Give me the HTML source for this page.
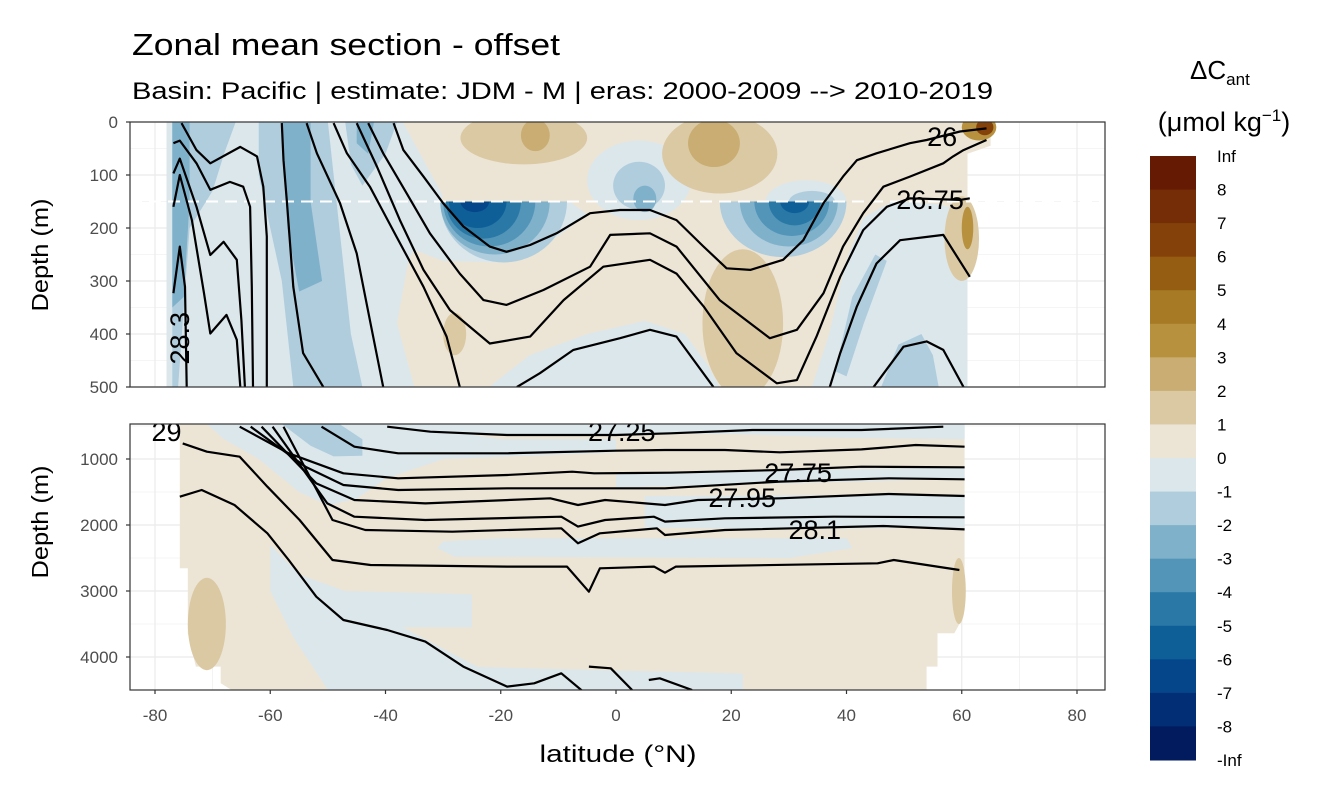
<!DOCTYPE html>
<html><head><meta charset="utf-8">
<style>
html,body{margin:0;padding:0;background:#fff;}
svg{display:block;font-family:"Liberation Sans",sans-serif;}
</style></head>
<body>
<svg id="chart" width="1344" height="806" viewBox="0 0 1344 806" xmlns="http://www.w3.org/2000/svg">
<defs>
<clipPath id="clipTop"><rect x="130" y="122" width="975" height="265"/></clipPath>
<clipPath id="clipTopBelow"><rect x="130" y="201.5" width="975" height="186"/></clipPath>
<clipPath id="clipBot"><rect x="130" y="424" width="975" height="266"/></clipPath>
</defs>
<text x="132" y="55" font-size="31" textLength="428" lengthAdjust="spacingAndGlyphs" fill="#000">Zonal mean section - offset</text>
<text x="132" y="99" font-size="24" textLength="861" lengthAdjust="spacingAndGlyphs" fill="#000">Basin: Pacific | estimate: JDM - M | eras: 2000-2009 --&gt; 2010-2019</text>
<g id="topPanel"></g>
<g id="botPanel"></g>
<g id="axes"></g>
<g id="legend"></g>
</svg>
<script>
// ---------- data ----------
const colorBins = ['#641a03','#742d06','#84420a','#955d12','#a77a25','#b8913f','#c9ad72','#dbc9a3','#ece5d6','#dce7ec','#b0cddd','#80b1cb','#5295b8','#2a78a6','#0e5f98','#05468a','#022e76','#021a5e'];
const binBreaks = [8,7,6,5,4,3,2,1,0,-1,-2,-3,-4,-5,-6,-7,-8];
const legendLabels = ['Inf','8','7','6','5','4','3','2','1','0','-1','-2','-3','-4','-5','-6','-7','-8','-Inf'];
const xTicks = [-80,-60,-40,-20,0,20,40,60,80];
const topYTicks = [0,100,200,300,400,500];
const botYTicks = [1000,2000,3000,4000];

// top panel filled regions: [value, polygon of [lat, depth]]
const topPolys = [
 [0.5, [[-78,0],[65,0],[65,45],[61,60],[61,500],[-78,500]]],
 [-0.5,[[-78,0],[-37,0],[-33,80],[-30,140],[-36,260],[-38,380],[-35,500],[-78,500]]],
 [-0.5,[[-40,150],[-8,150],[-5,175],[-10,215],[-20,265],[-30,262],[-40,220]]],
 [-0.5,[[34,500],[37,400],[40,260],[43,180],[48,150],[56,155],[61,170],[61,500]]],
 [-0.5,[[-22,500],[-15,440],[-5,400],[5,375],[12,400],[16,460],[18,500]]],
 [-1.5,[[-77,0],[-66,0],[-68,60],[-70,130],[-74,200],[-75,350],[-76,500],[-77,500]]],
 [-1.5,[[-62,0],[-50,0],[-48,200],[-46,400],[-44,500],[-56,500],[-58,300],[-62,100]]],
 [-1.5,[[-47,0],[-38,0],[-40,60],[-44,120],[-46,80]]],
 [-1.5,[[38,470],[41,330],[45,250],[47,262],[43,380],[40,480]]],
 [-1.5,[[46,500],[49,420],[53,400],[55,440],[56,500]]],
 [-2.5,[[-77,0],[-74,0],[-74,150],[-75,330],[-77,350]]],
 [-2.5,[[-58,0],[-53,0],[-53,150],[-51,300],[-55,320],[-57,200]]],
 [-2.5,[[-45,0],[-42,0],[-43,60],[-45,40]]]
];
// top panel blobs: [value, lat, depth, latRadius, depthRadius]
const topBlobs = [
 [-0.5, 4,110,9,75],[-1.5,4,120,4.5,45],[-2.5,5,145,2,25],
 [-0.5,33,150,7,40],[-1.5,34,150,4,20],
 [1.5,-16,30,11,50],[2.5,-14,25,2.5,30],
 [1.5,18,60,10,75],[2.5,17,40,4.5,45],
 [1.5,-28,400,2,40],[1.5,22,380,7,140],
 [3.5,63,10,3,25],[6.5,64,10,1.5,15],
 [1.5,60,220,3,80],[3.5,61,200,1,40]
];
// blobs anchored on 150 m line (drawn below it only)
const troughBlobs = [
 [-1.5,-19.5,150,11,115],[-2.5,-21,150,9.5,100],[-3.5,-22,150,8,85],[-4.5,-23,150,6.5,70],[-5.5,-24,150,5,50],[-6.5,-24.5,150,2.5,20],
 [-1.5,29,150,11,105],[-2.5,30,150,8.5,85],[-3.5,30.5,150,6.5,65],[-4.5,31,150,4.5,45],[-5.5,31,150,2.5,22]
];
// top contours [lat, depth]
const topLines = [
 [[-75.4,2],[-72.8,53],[-70.4,78],[-65.2,47],[-62.3,65],[-61.2,122],[-60.6,216],[-60.6,500]],
 [[-76.8,40],[-75.7,35],[-72.8,78],[-70.4,128],[-67.0,113],[-64.7,122],[-63.5,160],[-63.2,311],[-63.0,500]],
 [[-76.8,97],[-75.7,69],[-72.8,160],[-70.4,251],[-68.1,226],[-65.8,260],[-65.0,374],[-64.4,500]],
 [[-76.8,160],[-75.7,100],[-73.6,185],[-71.5,323],[-70.4,399],[-67.6,364],[-65.8,411],[-65.2,500]],
 [[-76.8,323],[-75.7,235],[-74.8,311],[-74.5,500]],
 [[-58.0,2],[-57.7,72],[-57.1,153],[-56.0,311],[-54.3,436],[-50.8,500]],
 [[-53.7,2],[-51.9,59],[-47.9,153],[-45.0,248],[-42.7,374],[-40.4,500]],
 [[-49.0,2],[-46.7,59],[-42.7,122],[-38.1,216],[-33.4,311],[-29.4,405],[-27.1,500]],
 [[-38.6,2],[-36.9,53],[-33.4,103],[-30.0,153],[-26.5,197],[-21.9,235],[-19.0,245],[-14.9,232],[-10.3,210],[-4.5,172],[0.7,166],[5.9,166],[10.5,185],[15.2,235],[19.2,276],[23.3,279],[29.0,260],[32.5,223],[36.0,153],[39.4,103],[41.8,72],[45.2,59],[51.0,40],[53.9,34],[59.7,18],[64.3,12]],
 [[-43.0,2],[-40.4,59],[-36.3,135],[-32.3,210],[-27.1,286],[-23.0,336],[-19.0,345],[-12.6,317],[-4.5,273],[-1.0,213],[5.9,210],[10.5,235],[18.0,336],[26.7,408],[31.4,392],[36.0,323],[39.4,235],[42.9,172],[46.4,122],[51.0,103],[56.8,78],[58.5,65],[60.3,53],[64.3,34]],
 [[-45.0,2],[-41.5,84],[-37.5,185],[-33.4,279],[-28.8,355],[-21.9,418],[-14.9,405],[-9.1,336],[-2.2,273],[5.9,260],[10.5,286],[15.2,348],[20.9,436],[27.9,493],[31.4,487],[34.8,405],[38.9,292],[42.9,204],[47.0,160],[51.0,144],[59.7,147],[61.4,144]],
 [[-17.2,500],[-13.2,474],[-7.4,430],[0.7,408],[5.9,392],[10.5,405],[16.9,500]],
 [[44.7,500],[49.9,424],[53.9,414],[56.8,430],[60.3,500]],
 [[37.1,500],[38.9,436],[41.8,348],[45.2,267],[49.3,223],[54.5,216],[56.8,213],[61.4,292]]
];
const topLabels = [['26',56.6,45,0],['26.75',54.5,164,0],['28.3',-74.1,408,-90]];

// bottom panel
const botPolys = [
 [0.5,[[-75.7,470],[60.5,470],[60.5,2700],[59.6,3500],[58.7,3641],[55.8,3641],[55.8,4146],[53.9,4146],[53.9,4500],[-66.7,4500],[-68.6,4399],[-68.6,4146],[-72.9,4146],[-74.3,3640],[-74.3,2656],[-75.7,2656]]],
 [-0.5,[[-71,470],[-38,470],[-20,700],[0,700],[0,900],[-30,1000],[-40,1300],[-45,1600],[-50,1700],[-55,1500],[-62,1000],[-68,700]]],
 [-1.5,[[-58,470],[-48,470],[-44,700],[-44,950],[-49,960],[-53,800],[-56,600]]],
 [-0.5,[[-40,470],[60.5,470],[60.5,700],[40,680],[20,620],[0,620],[-30,640],[-40,600]]],
 [-0.5,[[-30,2250],[-20,2200],[40,2200],[41,2350],[30,2500],[-28,2480],[-31,2350]]],
 [-0.5,[[5,1560],[60.5,1540],[60.5,2040],[30,2060],[5,2040]]],
 [-0.5,[[0,1200],[60.5,1130],[60.5,1300],[0,1430]]],
 [-0.5,[[-60,2300],[-55,2750],[-47,3000],[-25,3050],[-25,3550],[-37,3550],[-24,4150],[-2,4200],[22,4250],[22,4500],[-50,4500],[-56,3700],[-60,3000]]]
];
const botBlobs = [[1.5,-71,3500,3.3,700],[1.5,59.5,3000,1.2,500]];
const botLines = [
 [[-39.7,510],[-32.2,586],[-18.9,636],[0,636],[9.5,611],[23.7,561],[42.6,561],[56.8,510]],
 [[-51.1,510],[-45.4,813],[-37.8,914],[-18.9,914],[0,874],[8.5,864],[18.9,864],[28.4,899],[42.6,854],[52,788],[60.5,813]],
 [[-65.3,510],[-56.8,914],[-47.3,1217],[-37.8,1293],[-18.9,1242],[-7.6,1192],[-3.8,1217],[9.5,1207],[28.4,1167],[42.6,1116],[60.5,1126]],
 [[-63.4,510],[-53.9,1116],[-47.3,1394],[-37.8,1470],[-18.9,1444],[-6.6,1444],[8.5,1444],[28.4,1343],[47.3,1293],[60.5,1308]],
 [[-61.5,510],[-52,1369],[-45.4,1621],[-33.1,1672],[-11.4,1596],[-6.6,1697],[-1.9,1621],[8.5,1697],[14.2,1621],[28.4,1596],[47.3,1530],[60.5,1561]],
 [[-59.6,510],[-50.1,1672],[-45.4,1874],[-33.1,1924],[-9.5,1874],[-6.6,2025],[-1.9,1924],[6.6,1874],[8.5,1949],[18.9,1899],[37.8,1874],[60.5,1884]],
 [[-57.7,510],[-49.2,1924],[-43.5,2076],[-28.4,2101],[-9.5,2050],[-6.6,2278],[-2.8,2126],[7.1,2050],[8.5,2151],[18.9,2076],[46.4,2015],[60.5,2066]],
 [[-75.2,763],[-71,889],[-65.3,965],[-60.5,1419],[-54.9,1924],[-49.2,2530],[-42.6,2606],[-18.9,2631],[-8.5,2631],[-4.7,3010],[-2.8,2656],[6.6,2631],[8.5,2722],[10.4,2631],[45.4,2581],[48.2,2530],[59.6,2682]],
 [[-75.7,1571],[-71.9,1470],[-66.2,1697],[-60.5,2126],[-56.8,2530],[-52,3086],[-47.3,3439],[-39.7,3591],[-33.1,3767],[-26.5,4146],[-18.9,4449],[-14.2,4399],[-9.5,4247],[-5.7,4525]],
 [[-4.7,4146],[-0.9,4171],[2.8,4500]],
 [[5.7,4348],[7.6,4323],[13.2,4500]]
];
const botLabels = [['27.25',1,727],['27.75',31.6,1348],['27.95',21.9,1727],['28.1',34.5,2212],['29',-78,727]];

// ---------- scales ----------
const xs = lat => 616 + lat*5.7625;
const yt = d => 122 + d*0.53;
const yb = d => 459 + (d-1000)*0.066;
const NS='http://www.w3.org/2000/svg';
function mk(tag, attrs, parent){const e=document.createElementNS(NS,tag);for(const k in attrs)e.setAttribute(k,attrs[k]);parent.appendChild(e);return e;}
function colorFor(v){let i=0;for(const b of binBreaks){if(v<b)i++;}return colorBins[i];}

const topG=document.getElementById('topPanel');
const botG=document.getElementById('botPanel');
const axG=document.getElementById('axes');
const lgG=document.getElementById('legend');

function grid(parent, yScale, majors, minors, y0, y1){
  for(let v=-90; v<=90; v+=10){
    const x=xs(v); if(x<130||x>1105) continue;
    const l=mk('line',{x1:x,x2:x,y1:y0,y2:y1,stroke:'#ebebeb','stroke-width':(v%20===0)?1.2:0.6},parent);
    
    
  }
  majors.forEach(d=>{const y=yScale(d); if(y<y0||y>y1) return;
    const l=mk('line',{x1:130,x2:1105,y1:y,y2:y,stroke:'#ebebeb','stroke-width':1.2},parent);
    
    });
  minors.forEach(d=>{const y=yScale(d); if(y<y0||y>y1) return;
    const l=mk('line',{x1:130,x2:1105,y1:y,y2:y,stroke:'#ebebeb','stroke-width':0.6},parent);
    
    });
}
function poly(parent, pts, xS, yS, fill){
  const p=mk('polygon',{points:pts.map(q=>xS(q[0]).toFixed(1)+','+yS(q[1]).toFixed(1)).join(' '),fill:fill},parent);
  
  
}
function blob(parent,b,yS,kx){
  const e=mk('ellipse',{cx:xs(b[1]),cy:yS(b[2]),rx:b[3]*5.7625,ry:b[4]*kx,fill:colorFor(b[0])},parent);
  
  
}
function line(parent, pts, yS){
  const p=mk('polyline',{points:pts.map(q=>xs(q[0]).toFixed(1)+','+yS(q[1]).toFixed(1)).join(' '),fill:'none',stroke:'#000','stroke-width':2.2,'stroke-linejoin':'round'},parent);
  
  
}
function label(parent,s,x,y,rot){
  const e=mk('text',{x:x,y:y,'font-size':27,'text-anchor':'middle',fill:'#000'},parent);
  if(rot) e.setAttribute('transform',`rotate(${rot} ${x} ${y})`);
  e.textContent=s;
  
  
}

// top panel
grid(topG, yt, [0,100,200,300,400,500],[50,150,250,350,450],122,387);
const tF=mk('g',{'clip-path':'url(#clipTop)'},topG);
topPolys.forEach(p=>poly(tF,p[1],xs,yt,colorFor(p[0])));
topBlobs.forEach(b=>blob(tF,b,yt,0.53));
const tB=mk('g',{'clip-path':'url(#clipTopBelow)'},tF);
troughBlobs.forEach(b=>blob(tB,b,yt,0.53));
const dash=mk('line',{x1:130,x2:1105,y1:yt(150),y2:yt(150),stroke:'#fff','stroke-width':2,'stroke-dasharray':'12,7'},topG);


const tL=mk('g',{'clip-path':'url(#clipTop)'},topG);
topLines.forEach(l=>line(tL,l,yt));
topLabels.forEach(t=>label(tL,t[0],xs(t[1]),yt(t[2]),t[3]));
const tBorder=mk('rect',{x:130,y:122,width:975,height:265,fill:'none',stroke:'#333','stroke-width':1.2},topG);



// bottom panel
grid(botG, yb, botYTicks,[500,1500,2500,3500,4500],424,690);
const bF=mk('g',{'clip-path':'url(#clipBot)'},botG);
botPolys.forEach(p=>poly(bF,p[1],xs,yb,colorFor(p[0])));
botBlobs.forEach(b=>blob(bF,b,yb,0.066));
botLines.forEach(l=>line(bF,l,yb));
botLabels.forEach(t=>label(bF,t[0],xs(t[1]),yb(t[2]),0));
const bBorder=mk('rect',{x:130,y:424,width:975,height:266,fill:'none',stroke:'#333','stroke-width':1.2},botG);



// axes
function yTick(y,d){
  const tk=mk('line',{x1:126,x2:130,y1:y,y2:y,stroke:'#333','stroke-width':1.2},axG);
  
  
  const t=mk('text',{x:118,y:y+6,'font-size':17,'text-anchor':'end',fill:'#4d4d4d'},axG);
  t.textContent=d;
  
  
}
topYTicks.forEach(d=>yTick(yt(d),d));
botYTicks.forEach(d=>yTick(yb(d),d));
xTicks.forEach(v=>{const x=xs(v);
  const tk=mk('line',{x1:x,x2:x,y1:690,y2:694,stroke:'#333','stroke-width':1.2},axG);
  
  
  const t=mk('text',{x:x,y:721,'font-size':17,'text-anchor':'middle',fill:'#4d4d4d'},axG);
  t.textContent=v;
  
  });
[['Depth (m)',255],['Depth (m)',522]].forEach(a=>{
  const t=mk('text',{x:48,y:a[1],'font-size':23,'text-anchor':'middle',textLength:113,lengthAdjust:'spacingAndGlyphs',fill:'#000',transform:`rotate(-90 48 ${a[1]})`},axG);
  t.textContent=a[0];
  
  });
const xt=mk('text',{x:618,y:762,'font-size':24,'text-anchor':'middle',textLength:157,lengthAdjust:'spacingAndGlyphs',fill:'#000'},axG);
xt.textContent='latitude (°N)';



// legend
const lt1=mk('text',{x:1190,y:79,'font-size':26,fill:'#000'},lgG);
lt1.innerHTML='ΔC<tspan font-size="17" dy="6">ant</tspan>';


const lt2=mk('text',{x:1224,y:131,'font-size':27,'text-anchor':'middle',fill:'#000'},lgG);
lt2.innerHTML='(μmol kg<tspan font-size="17" dy="-10">−1</tspan><tspan dy="10">)</tspan>';


const barTop=156, binH=(760-156)/colorBins.length;
colorBins.forEach((c,i)=>{
  const r=mk('rect',{x:1150,y:barTop+i*binH,width:46,height:binH+0.5,fill:c},lgG);
  
  });
legendLabels.forEach((s,i)=>{
  const t=mk('text',{x:1217,y:barTop+i*binH+6,'font-size':17,fill:'#000'},lgG);
  t.textContent=s;
  
  });
</script>
</body></html>
